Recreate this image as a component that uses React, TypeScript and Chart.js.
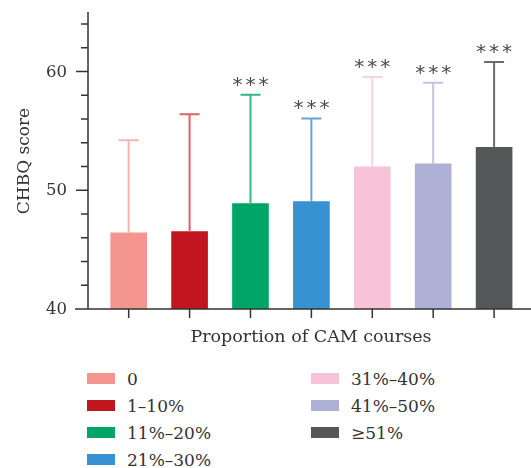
import React, { useEffect, useRef } from "react";
import { Chart, registerables } from "chart.js";

Chart.register(...registerables);

const categories = ["0", "1–10%", "11%–20%", "21%–30%", "31%–40%", "41%–50%", "≥51%"];
const means = [46.42, 46.51, 48.88, 49.05, 51.97, 52.23, 53.61];
const upperErr = [54.2, 56.4, 58.03, 56.04, 59.53, 59.05, 60.8];
const significance = ["", "", "***", "***", "***", "***", "***"];
const barColors = ["#f4968f", "#c1151f", "#00a566", "#3891d0", "#f6c3d9", "#aeb0d6", "#555859"];
const errColors = ["#f6b4b2", "#d7626b", "#33b785", "#5ea7da", "#f8d2e3", "#c3c4e1", "#6a6d6e"];
const yMajorTicks = [40, 50, 60];
const yMinorTicks = [42, 44, 46, 48, 52, 54, 56, 58, 62, 64];
const yTitle = "CHBQ score";
const xTitle = "Proportion of CAM courses";

const FONT = "'DejaVu Serif', serif";
const AXIS = "#333333";

const overlayPlugin = {
  id: "overlay",
  afterDatasetsDraw(chart: any) {
    const ctx = chart.ctx;
    const ys = chart.scales.y;
    ctx.save();
    chart.data.datasets.forEach((ds: any, i: number) => {
      const meta = chart.getDatasetMeta(i);
      const bar = meta.data[0];
      if (!bar) return;
      const px = bar.x;
      const top = bar.y;
      const cap = ys.getPixelForValue(upperErr[i]);
      ctx.strokeStyle = errColors[i];
      ctx.lineWidth = 2;
      ctx.beginPath();
      ctx.moveTo(px, top);
      ctx.lineTo(px, cap);
      ctx.moveTo(px - 10, cap);
      ctx.lineTo(px + 10, cap);
      ctx.stroke();
      if (significance[i]) {
        ctx.fillStyle = "#4a4a4a";
        ctx.font = `20px 'DejaVu Sans', sans-serif`;
        ctx.textAlign = "center";
        ctx.textBaseline = "alphabetic";
        const n = significance[i].length;
        for (let k = 0; k < n; k++) {
          const ox = (k - (n - 1) / 2) * 13;
          ctx.fillText("*", px + ox, cap - 4);
        }
      }
    });
    ctx.restore();
  },
  afterDraw(chart: any) {
    const ctx = chart.ctx;
    const ys = chart.scales.y;
    const xs = chart.scales.x;
    const area = chart.chartArea;
    const ax = area.left;
    const ay = ys.getPixelForValue(40);
    ctx.save();
    ctx.strokeStyle = AXIS;
    ctx.lineWidth = 1.5;
    ctx.beginPath();
    ctx.moveTo(ax, ay);
    ctx.lineTo(ax, area.top);
    ctx.moveTo(ax - 13, ay);
    ctx.lineTo(chart.width, ay);
    yMajorTicks.forEach((t) => {
      const py = ys.getPixelForValue(t);
      ctx.moveTo(ax - 12, py);
      ctx.lineTo(ax, py);
    });
    yMinorTicks.forEach((t) => {
      const py = ys.getPixelForValue(t);
      ctx.moveTo(ax - 7, py);
      ctx.lineTo(ax, py);
    });
    categories.forEach((_, i) => {
      const px = xs.getPixelForValue(i);
      ctx.moveTo(px, ay);
      ctx.lineTo(px, ay + 9);
    });
    ctx.stroke();

    ctx.fillStyle = AXIS;
    ctx.font = `16.5px ${FONT}`;
    ctx.textAlign = "right";
    ctx.textBaseline = "middle";
    yMajorTicks.forEach((t) => {
      ctx.fillText(String(t), ax - 21, ys.getPixelForValue(t) + 1);
    });

    ctx.font = `17.5px ${FONT}`;
    ctx.textAlign = "center";
    ctx.textBaseline = "alphabetic";
    ctx.fillText(xTitle, 311, 342);

    ctx.save();
    ctx.translate(25, 161);
    ctx.rotate(-Math.PI / 2);
    ctx.font = `17px ${FONT}`;
    ctx.textAlign = "center";
    ctx.textBaseline = "middle";
    ctx.fillText(yTitle, 0, 0);
    ctx.restore();

    ctx.restore();
  },
};

export default function App() {
  const ref = useRef<HTMLCanvasElement>(null);

  useEffect(() => {
    if (!ref.current) return;
    const chart = new Chart(ref.current, {
      type: "bar",
      data: {
        datasets: categories.map((c, i) => ({
          label: c,
          data: [{ x: i, y: means[i] }],
          backgroundColor: barColors[i],
          borderWidth: 0,
          barThickness: 36,
          grouped: false,
        })),
      },
      options: {
        responsive: false,
        animation: false,
        layout: { padding: { left: 88, right: 0, top: 12, bottom: 41 } },
        plugins: { legend: { display: false }, tooltip: { enabled: false } },
        scales: {
          x: { type: "linear", display: false, offset: false, min: -0.668, max: 6.606 },
          y: { display: false, min: 40, max: 65 },
        },
      },
      plugins: [overlayPlugin],
    } as any);
    return () => chart.destroy();
  }, []);

  const rowCenters = [378.7, 405.7, 432.7, 459.7];

  return (
    <div style={{ position: "fixed", left: 0, top: 0, width: 531, height: 468, background: "#fff", overflow: "hidden" }}>
      <canvas ref={ref} width={531} height={350} style={{ position: "absolute", left: 0, top: 0, width: 531, height: 350 }} />
      {categories.map((c, i) => {
        const col = i < 4 ? 0 : 1;
        const row = i < 4 ? i : i - 4;
        const left = col === 0 ? 87 : 311;
        const cy = rowCenters[row];
        return (
          <div
            key={c}
            style={{
              position: "absolute",
              left,
              top: cy - 13,
              height: 26,
              display: "flex",
              alignItems: "center",
              fontFamily: FONT,
              fontSize: 17,
              color: AXIS,
              whiteSpace: "nowrap",
            }}
          >
            <span style={{ display: "inline-block", width: 28, height: 11, background: barColors[i], marginRight: 12 }} />
            <span>{c}</span>
          </div>
        );
      })}
    </div>
  );
}
